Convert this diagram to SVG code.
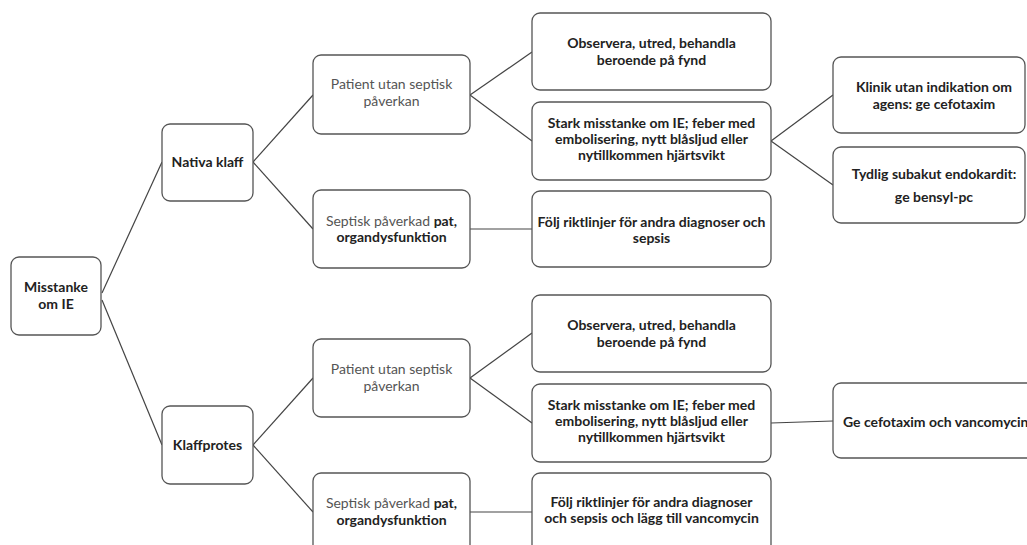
<svg xmlns="http://www.w3.org/2000/svg" width="1027" height="545" viewBox="0 0 1027 545">
<style>
.box{fill:#fff;stroke:#555;stroke-width:1.3}
.t{font-family:Lato,"Open Sans","Liberation Sans",sans-serif;font-size:14px;font-weight:bold;fill:#222;text-anchor:middle}
.n{font-weight:normal;fill:#555}
.b{font-weight:bold;fill:#222}
#connectors line{stroke:#444;stroke-width:1.2}
</style>
<rect width="1027" height="545" fill="#fff"/>
<g id="connectors">
<line x1="102" y1="293" x2="162" y2="162"/>
<line x1="102" y1="300" x2="162" y2="445"/>
<line x1="253" y1="162" x2="313" y2="95"/>
<line x1="253" y1="162" x2="313" y2="229"/>
<line x1="470" y1="95" x2="532" y2="52"/>
<line x1="470" y1="95" x2="532" y2="141"/>
<line x1="470" y1="229" x2="532" y2="229"/>
<line x1="771" y1="141" x2="833" y2="95"/>
<line x1="771" y1="141" x2="833" y2="185"/>
<line x1="253" y1="445" x2="313" y2="378"/>
<line x1="253" y1="445" x2="313" y2="512"/>
<line x1="470" y1="378" x2="532" y2="333"/>
<line x1="470" y1="378" x2="532" y2="423"/>
<line x1="470" y1="512" x2="532" y2="512"/>
<line x1="771" y1="423" x2="833" y2="421"/>
</g>
<g id="misstanke">
<rect class="box" x="11" y="257" width="90" height="78" rx="8"/>
<text class="t" x="56" y="292">Misstanke</text>
<text class="t" x="56" y="309">om IE</text>
</g>
<g id="nativa">
<rect class="box" x="162" y="124" width="91" height="77" rx="8"/>
<text class="t" x="207.5" y="167">Nativa klaff</text>
</g>
<g id="patient1">
<rect class="box" x="313" y="55" width="157" height="79" rx="8"/>
<text class="t n" x="391.5" y="89">Patient utan septisk</text>
<text class="t n" x="391.5" y="106">påverkan</text>
</g>
<g id="septisk1">
<rect class="box" x="313" y="190" width="157" height="78" rx="8"/>
<text class="t" x="391.5" y="226"><tspan class="n">Septisk påverkad </tspan><tspan class="b">pat,</tspan></text>
<text class="t" x="391.5" y="242">organdysfunktion</text>
</g>
<g id="observera1">
<rect class="box" x="532" y="13" width="239" height="77" rx="8"/>
<text class="t" x="651.5" y="48">Observera, utred, behandla</text>
<text class="t" x="651.5" y="65">beroende på fynd</text>
</g>
<g id="stark1">
<rect class="box" x="532" y="102" width="239" height="78" rx="8"/>
<text class="t" x="651.5" y="128">Stark misstanke om IE; feber med</text>
<text class="t" x="651.5" y="144">embolisering, nytt blåsljud eller</text>
<text class="t" x="651.5" y="160">nytillkommen hjärtsvikt</text>
</g>
<g id="folj1">
<rect class="box" x="532" y="191" width="239" height="76" rx="8"/>
<text class="t" x="651.5" y="227">Följ riktlinjer för andra diagnoser och</text>
<text class="t" x="651.5" y="243">sepsis</text>
</g>
<g id="klinik">
<rect class="box" x="833" y="57" width="192" height="76" rx="8"/>
<text class="t" x="934" y="92">Klinik utan indikation om</text>
<text class="t" x="934" y="109">agens: ge cefotaxim</text>
</g>
<g id="tydlig">
<rect class="box" x="833" y="147" width="192" height="76" rx="8"/>
<text class="t" x="934" y="179">Tydlig subakut endokardit:</text>
<text class="t" x="934" y="202">ge bensyl-pc</text>
</g>
<g id="klaffprotes">
<rect class="box" x="162" y="406" width="91" height="78" rx="8"/>
<text class="t" x="207.5" y="450">Klaffprotes</text>
</g>
<g id="patient2">
<rect class="box" x="313" y="339" width="157" height="78" rx="8"/>
<text class="t n" x="391.5" y="374">Patient utan septisk</text>
<text class="t n" x="391.5" y="391">påverkan</text>
</g>
<g id="septisk2">
<rect class="box" x="313" y="473" width="157" height="90" rx="8"/>
<text class="t" x="391.5" y="508"><tspan class="n">Septisk påverkad </tspan><tspan class="b">pat,</tspan></text>
<text class="t" x="391.5" y="525">organdysfunktion</text>
</g>
<g id="observera2">
<rect class="box" x="532" y="295" width="239" height="77" rx="8"/>
<text class="t" x="651.5" y="330">Observera, utred, behandla</text>
<text class="t" x="651.5" y="347">beroende på fynd</text>
</g>
<g id="stark2">
<rect class="box" x="532" y="384" width="239" height="78" rx="8"/>
<text class="t" x="651.5" y="410">Stark misstanke om IE; feber med</text>
<text class="t" x="651.5" y="426">embolisering, nytt blåsljud eller</text>
<text class="t" x="651.5" y="442">nytillkommen hjärtsvikt</text>
</g>
<g id="folj2">
<rect class="box" x="532" y="473" width="239" height="90" rx="8"/>
<text class="t" x="651.5" y="507">Följ riktlinjer för andra  diagnoser</text>
<text class="t" x="651.5" y="523">och sepsis och lägg till vancomycin</text>
</g>
<g id="ge">
<rect class="box" x="833" y="383" width="210" height="75" rx="8"/>
<text class="t" x="843" y="427" style="text-anchor:start">Ge cefotaxim och vancomycin</text>
</g>
</svg>
